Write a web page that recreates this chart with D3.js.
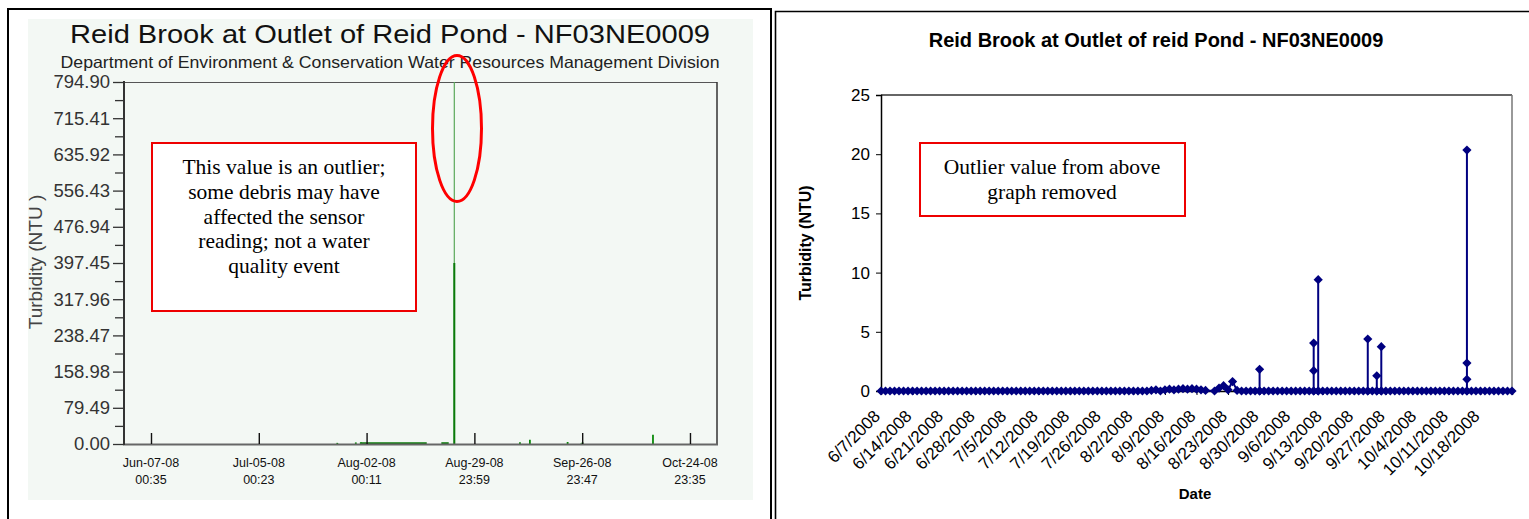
<!DOCTYPE html>
<html><head><meta charset="utf-8">
<script src="https://cdn.jsdelivr.net/npm/d3@7"></script>
<style>body{margin:0;background:#fff;} svg{display:block;}</style>
</head><body>
<svg id="c" width="1529" height="519"></svg>
<script>
// ---------- LEFT CHART DATA ----------
const leftTitle = "Reid Brook at Outlet of Reid Pond - NF03NE0009";
const leftSubtitle = "Department of Environment & Conservation Water Resources Management Division";
const leftYTicks = [0, 79.49, 158.98, 238.47, 317.96, 397.45, 476.94, 556.43, 635.92, 715.41, 794.90];
const leftXTickDates = ["2008-06-07T00:35","2008-07-05T00:23","2008-08-02T00:11","2008-08-29T23:59","2008-09-26T23:47","2008-10-24T23:35"];
const leftXTickDay = ["Jun-07-08","Jul-05-08","Aug-02-08","Aug-29-08","Sep-26-08","Oct-24-08"];
const leftXTickTime = ["00:35","00:23","00:11","23:59","23:47","23:35"];
const leftStemDates = ["2008-07-25T09:40","2008-07-30T05:00","2008-07-31T12:00","2008-09-10T20:00","2008-09-13T10:00","2008-09-23T05:00","2008-09-26T19:00","2008-09-27T02:00","2008-10-15T09:00"];
const leftStemValues = [2.5, 3.5, 4.0, 4.0, 9.4, 4.4, 1.3, 3.7, 20.35];
const leftFlatStarts = ["2008-07-31T12:00","2008-08-21T10:00"];
const leftFlatEnds = ["2008-08-17T15:00","2008-08-23T08:00"];
const leftFlatValues = [1.5, 1.5];
const leftOutlierDate = "2008-08-24T18:50";
const leftOutlierValues = [794.9, 397.45];
const leftAnnotation = ["This value is an outlier;","some debris may have","affected the sensor","reading; not a water","quality event"];

// ---------- RIGHT CHART DATA ----------
const rightTitle = "Reid Brook at Outlet of reid Pond - NF03NE0009";
const rightStartDate = "6/7/2008";
const rightEndDate = "10/25/2008";
const rightYTicks = [0, 5, 10, 15, 20, 25];
const rightXTickLabels = ["6/7/2008","6/14/2008","6/21/2008","6/28/2008","7/5/2008","7/12/2008","7/19/2008","7/26/2008","8/2/2008","8/9/2008","8/16/2008","8/23/2008","8/30/2008","9/6/2008","9/13/2008","9/20/2008","9/27/2008","10/4/2008","10/11/2008","10/18/2008"];
// one entry per day from 6/7/2008; arrays hold several readings on the same day; null = no reading
const rightDailyValues = [
  0,0,0,0,0,0,0,0,0,0,
  0,0,0,0,0,0,0,0,0,0,
  0,0,0,0,0,0,0,0,0,0,
  0,0,0,0,0,0,0,0,0,0,
  0,0,0,0,0,0,0,0,0,0,
  0,0,0,0,0,0,0,0,0,0,
  0.05,0.1,0,0.1,0.15,0.1,0.15,0.2,0.15,0.2,
  0.15,0.1,0.05,null,0,0.25,0.45,0.1,0.8,0.05,
  0,0,0,0,[0,1.83,0],0,0,0,0,0,
  0,0,0,0,0,0,[0,4.05,1.72,0],[0,9.4,0],0,0,
  0,0,0,0,0,0,0,0,[0,4.39,0],0,
  [0,1.29,0],[0,3.74,0],0,0,0,0,0,0,0,0,
  0,0,0,0,0,0,0,0,0,0,
  [0,20.35,2.36,0.99,0],0,0,0,0,0,0,0,0,0,
  0
];
const rightAnnotation = ["Outlier value from above","graph removed"];

const svg = d3.select("#c");
const parseISO = s => new Date(s);
const parseMDY = d3.timeParse("%m/%d/%Y");

// ---------- panel borders ----------
svg.append("rect").attr("x",8).attr("y",9).attr("width",763).attr("height",530)
  .attr("fill","none").attr("stroke","#000").attr("stroke-width",2);
svg.append("path").attr("d","M775.5,540V11.5H1535").attr("fill","none").attr("stroke","#000").attr("stroke-width",1.6);

// ================= LEFT CHART =================
const L = svg.append("g").attr("font-family","'Liberation Sans', Arial, sans-serif");
L.append("rect").attr("x",28).attr("y",19).attr("width",725).attr("height",481).attr("fill","#f3f8f4");

const xL = d3.scaleTime().domain([new Date("2008-05-31T00:19"), new Date("2008-11-01T00:00")]).range([124,717]);
const yL = d3.scaleLinear().domain([0,794.9]).range([444,82]);

L.append("text").attr("x",390).attr("y",43).attr("text-anchor","middle").attr("font-size",26)
  .attr("textLength",640).attr("lengthAdjust","spacingAndGlyphs").attr("fill","#111").text(leftTitle);
L.append("text").attr("x",390).attr("y",68).attr("text-anchor","middle").attr("font-size",16.5)
  .attr("textLength",659).attr("lengthAdjust","spacingAndGlyphs").attr("fill","#222").text(leftSubtitle);

// frame
L.append("line").attr("x1",124).attr("x2",717).attr("y1",82.5).attr("y2",82.5).attr("stroke","#555").attr("stroke-width",1.2);
L.append("line").attr("x1",717).attr("x2",717).attr("y1",82).attr("y2",445).attr("stroke","#333").attr("stroke-width",1.5);

// minor y ticks
const minorL = leftYTicks.slice(1).map((d,i)=> (d+leftYTicks[i])/2);
const gMinor = L.append("g").attr("transform","translate(124,0)")
  .call(d3.axisLeft(yL).tickValues(minorL).tickSize(9).tickFormat(""));
gMinor.select(".domain").remove();
gMinor.selectAll("line").attr("stroke","#333").attr("stroke-width",1.3);

const gYL = L.append("g").attr("transform","translate(124,0)")
  .call(d3.axisLeft(yL).tickValues(leftYTicks).tickSize(11).tickPadding(3).tickFormat(d=>d.toFixed(2)));
gYL.select(".domain").remove();
gYL.selectAll("line").attr("stroke","#333").attr("stroke-width",1.3);
gYL.selectAll("text").attr("font-size",18.5).attr("fill","#333").attr("font-family","'Liberation Sans', Arial, sans-serif");

// y title
L.append("text").attr("transform","translate(42,262) rotate(-90)").attr("text-anchor","middle")
  .attr("font-size",19).attr("fill","#444").text("Turbidity (NTU )");

// data: flats
leftFlatStarts.forEach((s,i)=>{
  L.append("line").attr("x1",xL(parseISO(s))).attr("x2",xL(parseISO(leftFlatEnds[i])))
    .attr("y1",yL(leftFlatValues[i])).attr("y2",yL(leftFlatValues[i]))
    .attr("stroke","#0a7a0a").attr("stroke-width",2.2);
});
// stems
L.selectAll(".stem").data(leftStemDates).join("line").attr("class","stem")
  .attr("x1",d=>xL(parseISO(d))).attr("x2",d=>xL(parseISO(d)))
  .attr("y1",yL(0)).attr("y2",(d,i)=>yL(leftStemValues[i]))
  .attr("stroke","#0a8a0a").attr("stroke-width",1.8);
// outlier
const ox = xL(parseISO(leftOutlierDate));
L.append("line").attr("x1",ox).attr("x2",ox).attr("y1",yL(0)).attr("y2",yL(leftOutlierValues[0]))
  .attr("stroke","#5aa85a").attr("stroke-width",1.2);
L.append("line").attr("x1",ox).attr("x2",ox).attr("y1",yL(0)).attr("y2",yL(leftOutlierValues[1]))
  .attr("stroke","#0a7a0a").attr("stroke-width",2);

// axes lines
L.append("line").attr("x1",123).attr("x2",718).attr("y1",444.5).attr("y2",444.5).attr("stroke","#666").attr("stroke-width",2);
L.append("line").attr("x1",124).attr("x2",124).attr("y1",81).attr("y2",445).attr("stroke","#333").attr("stroke-width",2);

// x ticks
const gXL = L.append("g").attr("transform","translate(0,444)")
  .call(d3.axisBottom(xL).tickValues(leftXTickDates.map(parseISO)).tickSize(-11).tickFormat(""));
gXL.select(".domain").remove();
gXL.selectAll("line").attr("stroke","#111").attr("stroke-width",1.4);
leftXTickDates.forEach((d,i)=>{
  const x = xL(parseISO(d));
  const t = L.append("text").attr("text-anchor","middle").attr("font-size",12.5).attr("fill","#111");
  t.append("tspan").attr("x",x).attr("y",467).text(leftXTickDay[i]);
  t.append("tspan").attr("x",x).attr("y",484).text(leftXTickTime[i]);
});

// annotation box
L.append("rect").attr("x",152).attr("y",143).attr("width",264).attr("height",168)
  .attr("fill","#fff").attr("stroke","#e00").attr("stroke-width",2);
leftAnnotation.forEach((s,i)=>{
  L.append("text").attr("x",284).attr("y",174+i*24.8).attr("text-anchor","middle")
    .attr("font-family","'Liberation Serif','Times New Roman',serif").attr("font-size",21.5).attr("fill","#000").text(s);
});
// ellipse
L.append("ellipse").attr("cx",457).attr("cy",128.5).attr("rx",24.5).attr("ry",73)
  .attr("fill","none").attr("stroke","#f00").attr("stroke-width",3);

// ================= RIGHT CHART =================
const R = svg.append("g").attr("font-family","'Liberation Sans', Arial, sans-serif");
const xR = d3.scaleTime().domain([parseMDY(rightStartDate), parseMDY(rightEndDate)]).range([881,1512]);
const yR = d3.scaleLinear().domain([0,25]).range([391,95]);

R.append("text").attr("x",1156).attr("y",47).attr("text-anchor","middle").attr("font-size",20)
  .attr("font-weight","bold").attr("fill","#000").text(rightTitle);

// frame
R.append("line").attr("x1",881).attr("x2",1512).attr("y1",95).attr("y2",95).attr("stroke","#333").attr("stroke-width",1.3);
R.append("line").attr("x1",1512).attr("x2",1512).attr("y1",95).attr("y2",391).attr("stroke","#777").attr("stroke-width",1.5);

const gYR = R.append("g").attr("transform","translate(881,0)")
  .call(d3.axisLeft(yR).tickValues(rightYTicks).tickSize(5).tickPadding(6).tickFormat(d3.format("d")));
gYR.select(".domain").attr("stroke","#000").attr("stroke-width",1.5);
gYR.selectAll("line").attr("stroke","#000");
gYR.selectAll("text").attr("font-size",17).attr("fill","#000").attr("font-family","'Liberation Sans', Arial, sans-serif");

R.append("text").attr("transform","translate(811,243) rotate(-90)").attr("text-anchor","middle")
  .attr("font-size",16).attr("font-weight","bold").text("Turbidity (NTU)");

// x axis
const rTickDates = rightXTickLabels.map(parseMDY);
const gXR = R.append("g").attr("transform","translate(0,391)")
  .call(d3.axisBottom(xR).tickValues(rTickDates).tickSize(4).tickFormat(""));
gXR.select(".domain").attr("stroke","#000").attr("stroke-width",1.5);
gXR.selectAll("line").attr("stroke","#000");
rTickDates.forEach((d,i)=>{
  R.append("text").attr("transform",`translate(${xR(d)-4},413) rotate(-45)`).attr("text-anchor","end")
    .attr("dy","0.35em").attr("font-size",17).attr("fill","#000").text(rightXTickLabels[i]);
});
R.append("text").attr("x",1195).attr("y",499).attr("text-anchor","middle").attr("font-size",15)
  .attr("font-weight","bold").text("Date");

// build points
const start = parseMDY(rightStartDate);
const pts = [];
rightDailyValues.forEach((v,i)=>{
  if (v === null) return;
  const d = d3.timeDay.offset(start, i);
  (Array.isArray(v) ? v : [v]).forEach(val => pts.push({d, v: val}));
});
R.append("path").datum(pts).attr("fill","none").attr("stroke","#000080").attr("stroke-width",2)
  .attr("d", d3.line().x(p=>xR(p.d)).y(p=>yR(p.v)));
R.selectAll(".mk").data(pts).join("path").attr("class","mk")
  .attr("transform",p=>`translate(${xR(p.d)},${yR(p.v)})`)
  .attr("d","M0,-4.6L4.6,0L0,4.6L-4.6,0Z").attr("fill","#000080");

// annotation
R.append("rect").attr("x",920).attr("y",143).attr("width",265).attr("height",73)
  .attr("fill","#fff").attr("stroke","#e00").attr("stroke-width",2);
rightAnnotation.forEach((s,i)=>{
  R.append("text").attr("x",1052).attr("y",174+i*24.5).attr("text-anchor","middle")
    .attr("font-family","'Liberation Serif','Times New Roman',serif").attr("font-size",21.5).text(s);
});
</script>
</body></html>
